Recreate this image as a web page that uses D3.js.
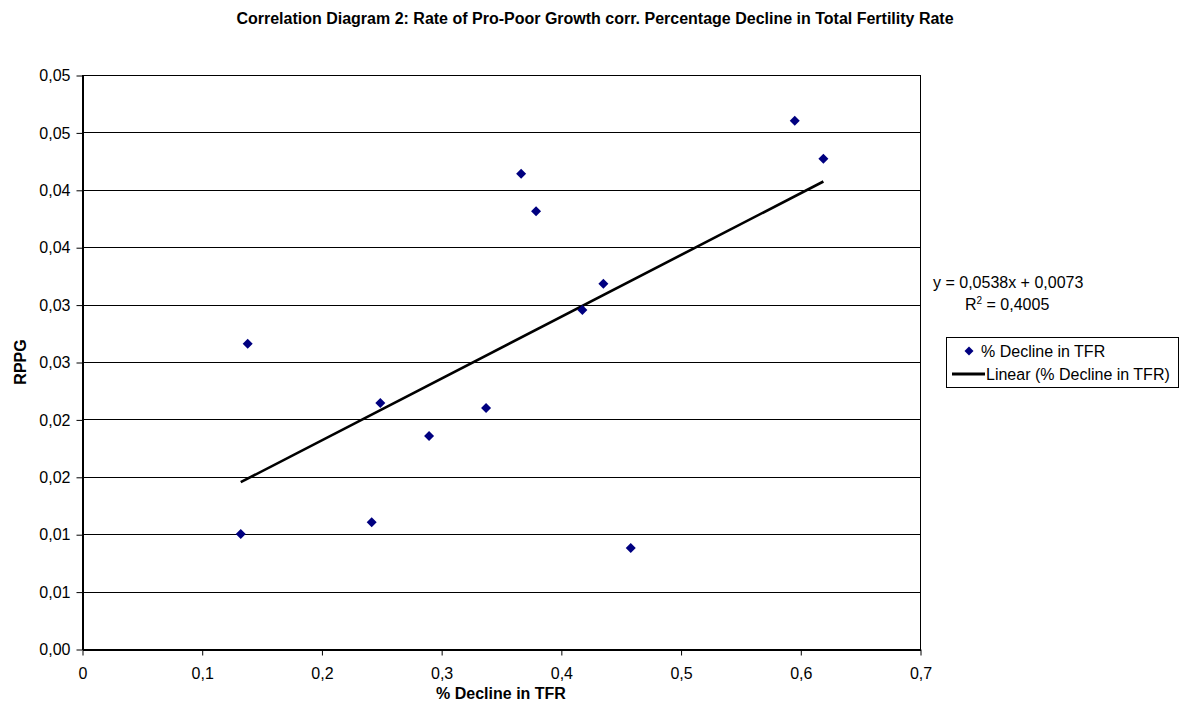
<!DOCTYPE html>
<html>
<head>
<meta charset="utf-8">
<script src="https://cdn.jsdelivr.net/npm/d3@7"></script>
<style>
  html, body { margin: 0; padding: 0; background: #fff; }
  svg { display: block; font-family: "Liberation Sans", Arial, sans-serif; }
</style>
</head>
<body>
<svg id="chart" width="1187" height="713"></svg>
<script>
// ---- data ----
const title = "Correlation Diagram 2: Rate of Pro-Poor Growth corr. Percentage Decline in Total Fertility Rate";
const xTitle = "% Decline in TFR";
const yTitle = "RPPG";
const seriesName = "% Decline in TFR";
const trendName = "Linear (% Decline in TFR)";
const declineTFR = [0.1326, 0.1384, 0.2492, 0.2420, 0.2899, 0.3375, 0.3668, 0.3793, 0.4180, 0.4355, 0.4584, 0.5954, 0.6193];
const rppg       = [0.01002, 0.02659, 0.02143, 0.01104, 0.01855, 0.02099, 0.04140, 0.03813, 0.02953, 0.03182, 0.00880, 0.04602, 0.04271];
const xTickValues = [0, 0.1, 0.2, 0.3, 0.4, 0.5, 0.6, 0.7];
const xTickLabels = ["0", "0,1", "0,2", "0,3", "0,4", "0,5", "0,6", "0,7"];
const yTickValues = [0, 0.005, 0.01, 0.015, 0.02, 0.025, 0.03, 0.035, 0.04, 0.045, 0.05];
const yTickLabels = ["0,00", "0,01", "0,01", "0,02", "0,02", "0,03", "0,03", "0,04", "0,04", "0,05", "0,05"];
const equationText = "y = 0,0538x + 0,0073";
const r2Text = "0,4005";

// ---- layout ----
const FS = 16;
const svg = d3.select("#chart");
const plot = { left: 82, right: 920, top: 75, bottom: 649 };
const x = d3.scaleLinear().domain([0, 0.7]).range([plot.left, plot.right]);
const y = d3.scaleLinear().domain([0, 0.05]).range([plot.bottom, plot.top]);
const points = declineTFR.map((d, i) => ({ x: d, y: rppg[i] }));

// title
svg.append("text")
  .attr("x", 595).attr("y", 24)
  .attr("text-anchor", "middle")
  .attr("font-size", FS).attr("font-weight", "bold")
  .text(title);

// gridlines
svg.append("g").selectAll("line").data(yTickValues.slice(1)).join("line")
  .attr("x1", plot.left).attr("x2", plot.right)
  .attr("y1", d => Math.round(y(d)) + 0.5).attr("y2", d => Math.round(y(d)) + 0.5)
  .attr("stroke", "#000").attr("stroke-width", 1);

// plot border
svg.append("rect")
  .attr("x", plot.left + 0.5).attr("y", plot.top + 0.5)
  .attr("width", plot.right - plot.left).attr("height", plot.bottom - plot.top)
  .attr("fill", "none").attr("stroke", "#000").attr("stroke-width", 1);

// axes
const xAxis = d3.axisBottom(x).tickValues(xTickValues)
  .tickFormat((d, i) => xTickLabels[i]).tickSize(6).tickSizeOuter(0).tickPadding(12);
const gx = svg.append("g").attr("transform", `translate(0.5,${plot.bottom + 0.5})`).call(xAxis);
const yAxis = d3.axisLeft(y).tickValues(yTickValues)
  .tickFormat((d, i) => yTickLabels[i]).tickSize(6).tickSizeOuter(0).tickPadding(6);
const gy = svg.append("g").attr("transform", `translate(${plot.left + 0.5},0.5)`).call(yAxis);
[gx, gy].forEach(g => {
  g.selectAll("path.domain").attr("stroke", "#000").attr("stroke-width", 2);
  g.selectAll(".tick line").attr("stroke", "#000");
  g.selectAll(".tick text").attr("font-size", FS).attr("fill", "#000")
    .attr("font-family", "'Liberation Sans', Arial, sans-serif");
});

// axis titles
svg.append("text")
  .attr("x", (plot.left + plot.right) / 2).attr("y", 699)
  .attr("text-anchor", "middle").attr("font-size", FS).attr("font-weight", "bold")
  .text(xTitle);
svg.append("text")
  .attr("transform", "translate(26,362) rotate(-90)")
  .attr("text-anchor", "middle").attr("font-size", FS).attr("font-weight", "bold")
  .text(yTitle);

// linear trend (least squares from the data)
const mx = d3.mean(declineTFR), my = d3.mean(rppg);
const sxy = d3.sum(points, p => (p.x - mx) * (p.y - my));
const sxx = d3.sum(points, p => (p.x - mx) ** 2);
const slope = sxy / sxx, intercept = my - slope * mx;
const xr = d3.extent(declineTFR);
svg.append("path")
  .datum(xr.map(v => ({ x: v, y: slope * v + intercept })))
  .attr("d", d3.line().x(d => x(d.x)).y(d => y(d.y)))
  .attr("stroke", "#000").attr("stroke-width", 2.6).attr("fill", "none");

// markers
const diamond = r => `M0,${-r}L${r},0L0,${r}L${-r},0Z`;
svg.append("g").selectAll("path").data(points).join("path")
  .attr("transform", d => `translate(${x(d.x)},${y(d.y)})`)
  .attr("d", diamond(5))
  .attr("fill", "#000080");

// equation
svg.append("text").attr("x", 933).attr("y", 288).attr("font-size", FS).text(equationText);
const r2 = svg.append("text").attr("x", 965).attr("y", 310).attr("font-size", FS);
r2.append("tspan").text("R");
r2.append("tspan").attr("font-size", 10).attr("dy", -6).text("2");
r2.append("tspan").attr("dy", 6).text(" = " + r2Text);

// legend
const lg = svg.append("g");
lg.append("rect").attr("x", 946.5).attr("y", 337.5).attr("width", 232).attr("height", 50)
  .attr("fill", "#fff").attr("stroke", "#000").attr("stroke-width", 1);
lg.append("path").attr("transform", "translate(969,351)").attr("d", diamond(4.5)).attr("fill", "#000080");
lg.append("text").attr("x", 981).attr("y", 357).attr("font-size", FS).text(seriesName);
lg.append("line").attr("x1", 952).attr("x2", 985).attr("y1", 374).attr("y2", 374)
  .attr("stroke", "#000").attr("stroke-width", 3);
lg.append("text").attr("x", 986).attr("y", 380).attr("font-size", FS).text(trendName);
</script>
</body>
</html>
